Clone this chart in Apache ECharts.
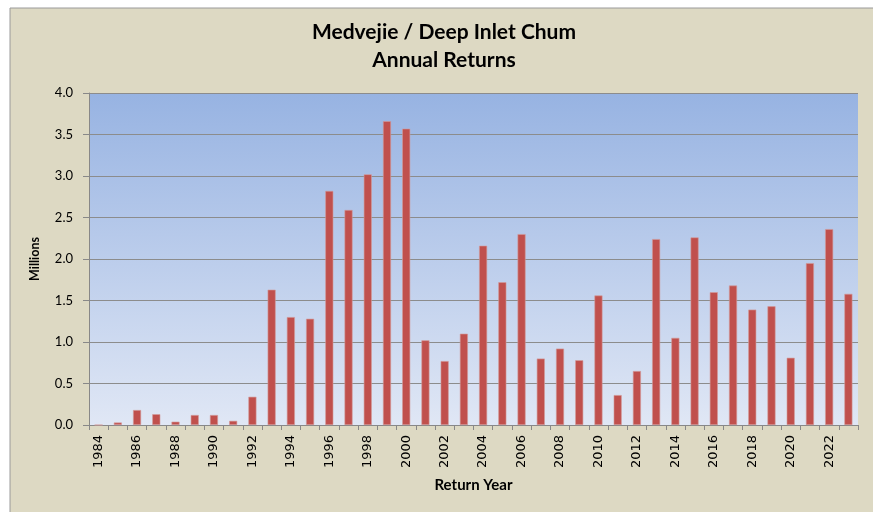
<!DOCTYPE html>
<html>
<head>
<meta charset="utf-8">
<script src="https://cdn.jsdelivr.net/npm/echarts@6/dist/echarts.min.js"></script>
<style>
  html, body { margin: 0; padding: 0; background: #ffffff; }
  #chart { width: 873px; height: 512px; }
</style>
</head>
<body>
<div id="chart"></div>
<script>
// Return years on the x axis
const years = ['1984', '1985', '1986', '1987', '1988', '1989', '1990', '1991', '1992', '1993',
  '1994', '1995', '1996', '1997', '1998', '1999', '2000', '2001', '2002', '2003',
  '2004', '2005', '2006', '2007', '2008', '2009', '2010', '2011', '2012', '2013',
  '2014', '2015', '2016', '2017', '2018', '2019', '2020', '2021', '2022', '2023'];

// Annual returns, millions of fish
const returnsMillions = [0, 0.03, 0.18, 0.13, 0.04, 0.12, 0.12, 0.05, 0.34, 1.63,
  1.30, 1.28, 2.82, 2.59, 3.02, 3.66, 3.57, 1.02, 0.77, 1.10,
  2.16, 1.72, 2.30, 0.80, 0.92, 0.78, 1.56, 0.36, 0.65, 2.24,
  1.05, 2.26, 1.60, 1.68, 1.39, 1.43, 0.81, 1.95, 2.36, 1.58];

const titleLines = ['Medvejie / Deep Inlet Chum', 'Annual Returns'];

const myChart = echarts.init(document.getElementById('chart'));

const option = {
  backgroundColor: '#ffffff',
  animation: false,
  graphic: [
    {
      type: 'rect',
      z: -10,
      shape: { x: 10, y: 8, width: 880, height: 520 },
      style: { fill: '#DDD9C3', stroke: '#9a9a9a', lineWidth: 1 }
    }
  ],
  title: {
    text: titleLines.join('\n'),
    left: 439,
    top: 13,
    textAlign: 'center',
    textStyle: {
      fontFamily: 'Lato',
      fontWeight: 'bold',
      fontSize: 21,
      lineHeight: 28,
      color: '#000'
    }
  },
  grid: {
    left: 89,
    right: 15,
    top: 93,
    bottom: 87,
    show: true,
    borderWidth: 0,
    backgroundColor: {
      type: 'linear', x: 0, y: 0, x2: 0, y2: 1,
      colorStops: [
        { offset: 0, color: '#97B3E2' },
        { offset: 1, color: '#E0E7F5' }
      ]
    }
  },
  xAxis: {
    type: 'category',
    data: years,
    name: 'Return Year',
    nameLocation: 'middle',
    nameGap: 53,
    nameTextStyle: { fontFamily: 'Lato', fontWeight: 'bold', fontSize: 15, color: '#000' },
    axisLine: { lineStyle: { color: '#888', width: 1 } },
    axisTick: { show: true, interval: 0, length: 5, lineStyle: { color: '#888' } },
    axisLabel: {
      interval: 1,
      rotate: 90,
      margin: 10,
      fontFamily: 'DejaVu Sans',
      fontSize: 13,
      color: '#000'
    }
  },
  yAxis: {
    type: 'value',
    min: 0,
    max: 4,
    interval: 0.5,
    name: 'Millions',
    nameLocation: 'middle',
    nameGap: 48,
    nameRotate: 90,
    nameTextStyle: { fontFamily: 'Lato', fontWeight: 'bold', fontSize: 12.5, color: '#000' },
    axisLine: { show: true, lineStyle: { color: '#888', width: 1 } },
    axisTick: { show: true, length: 6, lineStyle: { color: '#888' } },
    axisLabel: {
      margin: 16,
      fontFamily: 'Lato',
      fontSize: 13,
      color: '#000',
      formatter: v => v.toFixed(1)
    },
    splitLine: { lineStyle: { color: '#8c8c8c', width: 1.2 } }
  },
  series: [
    {
      name: 'Annual Returns',
      type: 'bar',
      data: returnsMillions,
      barWidth: 8,
      itemStyle: { color: '#C0504D', borderColor: '#D49a98', borderWidth: 0.6 }
    }
  ]
};

myChart.setOption(option);
</script>
</body>
</html>
